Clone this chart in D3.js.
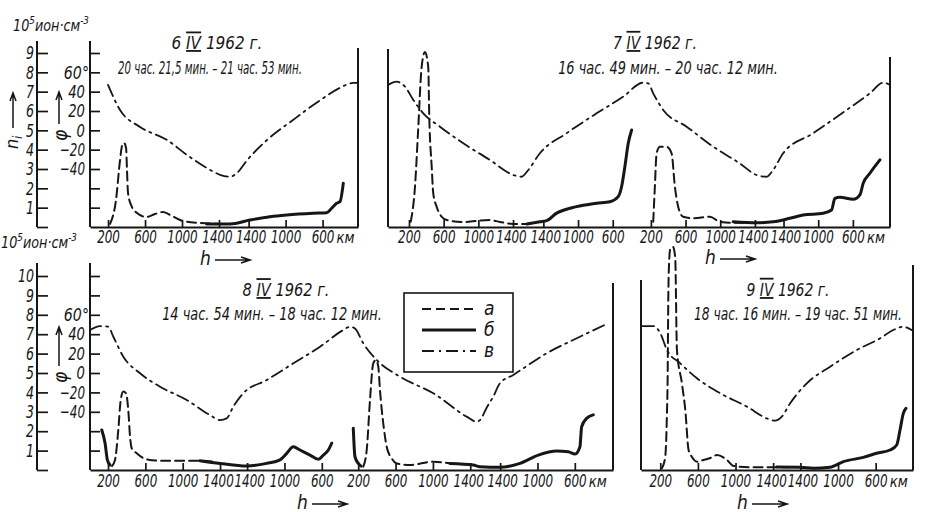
<!DOCTYPE html>
<html>
<head>
<meta charset="utf-8">
<script src="https://cdn.jsdelivr.net/npm/d3@7"></script>
<style>
  body { margin: 0; background: #fff; }
  text { font-family: "Liberation Sans Narrow", "DejaVu Sans Condensed", "Liberation Sans", sans-serif; font-style: italic; fill: #161616; }
</style>
</head>
<body>
<svg id="chart" width="925" height="512"></svg>
<script>
// ---- data (x = position along the pass in km of height profile, up then down) ----
var hLabels = ["200", "600", "1000", "1400", "1400", "1000", "600"];
var p1Ticks = [200, 600, 1000, 1400, 1720, 2120, 2520];
var p2Ticks = [200, 600, 1000, 1400, 1750, 2150, 2550, 2990, 3390, 3790, 4190, 4520, 4920, 5320];
var p3Ticks = [200, 600, 1000, 1400, 1690, 2090, 2490, 2880, 3280, 3680, 4080, 4400, 4800, 5200];
var p4Ticks = [200, 600, 1000, 1400, 1690, 2090, 2490];

var nTicksTop = [0, 1, 2, 3, 4, 5, 6, 7, 8, 9];
var nTicksBottom = [0, 1, 2, 3, 4, 5, 6, 7, 8, 9, 10];
var phiTicksTop = [-80, -60, -40, -20, 0, 20, 40, 60, 80];
var phiTicksBottom = [-80, -60, -40, -20, 0, 20, 40, 60, 80, 100];
var phiLabeled = [-40, -20, 0, 20, 40, 60];

// 6 IV 1962: n_i (10^5 ion/cm3) and phi (deg)
var p1A = [[222,0.16],[286,1.4],[330,3.47],[351,4.19],[373,4.35],[395,4.09],[405,2.95],[416,1.76],[449,1.14],[514,0.72],[611,0.52],[708,0.67],[795,0.78],[892,0.57],[1011,0.31],[1195,0.21],[1411,0.16]];
var p1B = [[1267,0.16],[1519,0.16],[1735,0.36],[1951,0.53],[2132,0.62],[2419,0.71],[2564,0.74],[2618,0.97],[2672,1.23],[2708,1.31],[2744,2.26]];
var p1V = [[200,47],[330,21],[546,3.5],[838,-10],[1054,-25.5],[1270,-39],[1411,-46],[1519,-48],[1595,-44],[1703,-31],[1919,-10],[2200,10.7],[2492,31],[2708,44],[2849,49],[2903,49]];

// 7 IV 1962
var p2A1 = [[220,0.27],[269,2.07],[304,4.86],[346,8.28],[384,9.05],[422,8.29],[434,5.71],[462,3.12],[480,1.74],[519,1.05],[577,0.53],[635,0.36],[823,0.26],[1134,0.36],[1249,0.26],[1399,0.16],[1561,0.16]];
var p2B1 = [[1561,0.16],[1710,0.27],[1788,0.33],[1903,0.72],[2018,0.92],[2171,1.09],[2364,1.23],[2518,1.31],[2613,1.57],[2652,2.08],[2690,3.12],[2729,4.33],[2768,5.02]];
var p2A2 = [[3017,0.27],[3036,2.08],[3056,3.81],[3094,4.15],[3171,4.15],[3229,3.81],[3267,2.08],[3305,1.05],[3363,0.53],[3478,0.45],[3671,0.53],[3786,0.27],[3936,0.22],[4094,0.22]];
var p2B2 = [[3939,0.27],[4209,0.22],[4400,0.27],[4593,0.45],[4746,0.62],[4977,0.71],[5074,0.88],[5112,1.48],[5170,1.54],[5324,1.43],[5401,1.66],[5439,2.26],[5516,2.78],[5632,3.47]];
var p2V = [[-39,47],[58,50.3],[154,45.2],[250,31.4],[365,17.6],[557,3.8],[826,-13.4],[1134,-30.7],[1403,-46.2],[1499,-48],[1576,-41],[1710,-23.7],[2018,-3],[2364,17.6],[2671,34.8],[2901,49.3],[2959,48.7],[3017,38.3],[3132,21.1],[3402,3.8],[3709,-16.9],[4014,-34.1],[4209,-46.2],[4324,-48],[4400,-41],[4516,-23.7],[4862,-3],[5247,21],[5516,38.3],[5669,49.3],[5746,47]];

// 8 IV 1962
var p3B0 = [[133,2.06],[168,1.39],[193,0.52],[221,0.26]];
var p3A1 = [[243,0.21],[275,0.52],[310,2.06],[336,3.61],[364,4.04],[393,3.95],[417,3.09],[436,1.72],[454,1.12],[507,0.86],[614,0.55],[757,0.48],[989,0.48],[1185,0.48],[1328,0.43]];
var p3B1 = [[1185,0.48],[1400,0.34],[1685,0.2],[1900,0.34],[2042,0.52],[2114,0.86],[2185,1.2],[2256,1.03],[2364,0.77],[2453,0.55],[2506,0.77],[2560,1.03],[2596,1.38]];
var p3B2s = [[2827,2.15],[2845,0.69],[2881,0.34],[2910,0.2]];
var p3A2 = [[2934,0.17],[2971,1.03],[3006,3.61],[3041,5.5],[3070,5.67],[3095,5.32],[3113,4.12],[3148,2.41],[3185,1.2],[3238,0.6],[3292,0.34],[3434,0.26],[3684,0.43],[3863,0.34]];
var p3B2 = [[3863,0.34],[4112,0.26],[4184,0.17],[4398,0.14],[4613,0.34],[4809,0.77],[5005,0.98],[5130,0.94],[5202,0.82],[5255,1.2],[5273,2.23],[5327,2.66],[5398,2.84]];
var p3V = [[7,44.3],[114,48.4],[203,47.7],[257,37.4],[364,16.8],[543,-0.3],[757,-14.1],[1043,-27.8],[1292,-43.3],[1400,-48.5],[1471,-46.8],[1542,-34.7],[1649,-20.9],[1900,-7.2],[2185,10],[2471,27.1],[2720,44.3],[2792,47.7],[2845,46],[2934,30.6],[3078,13.4],[3327,-3.8],[3684,-20.9],[4042,-45],[4149,-50.2],[4184,-48.5],[4260,-35],[4326,-24.4],[4398,-10.6],[4541,-2],[4898,20.3],[5255,37.4],[5541,50.5]];

// 9 IV 1962
var p4A = [[218,0.09],[253,0.69],[271,2.94],[278,4.64],[285,8.76],[296,10.93],[306,11.39],[335,11.5],[359,10.93],[377,6.19],[430,4.47],[466,3.09],[501,1.03],[537,0.67],[590,0.43],[660,0.52],[731,0.62],[802,0.77],[908,0.52],[978,0.21],[1156,0.14],[1368,0.14],[1581,0.14]];
var p4B = [[1439,0.15],[1687,0.14],[1828,0.09],[2005,0.14],[2147,0.43],[2359,0.65],[2501,0.86],[2643,1.03],[2714,1.29],[2749,2.06],[2784,2.92],[2813,3.18]];
var p4V = [[6,48.4],[129,48.4],[200,41],[271,23.7],[412,10],[590,-5.4],[837,-20.9],[1121,-34.7],[1333,-46.8],[1421,-49.2],[1492,-45],[1581,-31.2],[1758,-10.6],[2006,6.5],[2289,23.7],[2538,35.8],[2678,44.3],[2784,47.7],[2873,44.3]];

// ---- layout ----
var ink = "#161616";
var svg = d3.select("#chart");

var rows = {
  top:    { base: 227, top: 53,  nMax: 9,  axisTop: 41,  titleY: 49,  subY: 74,  tickPad: 3 },
  bottom: { base: 470, top: 276, nMax: 10, axisTop: 263, titleY: 296, subY: 320, tickPad: 4 }
};
Object.keys(rows).forEach(function (k) {
  var r = rows[k];
  r.yN = d3.scaleLinear().domain([0, r.nMax]).range([r.base, r.top]);
  r.yPhi = d3.scaleLinear().domain([-100, -100 + 20 * r.nMax]).range([r.base, r.top]);
});

var panels = [
  { row: "top", range: [90, 358], domain: [5, 2903], ticks: p1Ticks, labels: hLabels,
    dashed: [p1A], solid: [p1B], phi: p1V, leftTop: null, rightTop: 48,
    day: "6", titleX: 217, titleW: 91, sub: "20 час. 21,5 мин. – 21 час. 53 мин.", subX: 210, subW: 184, hX: 200, hY: 265 },
  { row: "top", range: [388, 890], domain: [-42, 5748], ticks: p2Ticks, labels: hLabels.concat(hLabels),
    dashed: [p2A1, p2A2], solid: [p2B1, p2B2], phi: p2V, leftTop: 49, rightTop: 57,
    day: "7", titleX: 655, titleW: 84, sub: "16 час. 49 мин. – 20 час. 12 мин.", subX: 668, subW: 220, hX: 705, hY: 264 },
  { row: "bottom", range: [90, 613], domain: [7, 5609], ticks: p3Ticks, labels: hLabels.concat(hLabels),
    dashed: [p3A1, p3A2], solid: [p3B0, p3B1, p3B2s, p3B2], phi: p3V, leftTop: null, rightTop: 283,
    day: "8", titleX: 286, titleW: 87, sub: "14 час. 54 мин. – 18 час. 12 мин.", subX: 272, subW: 220, hX: 297, hY: 509 },
  { row: "bottom", range: [641, 913], domain: [-5, 2887], ticks: p4Ticks, labels: hLabels,
    dashed: [p4A], solid: [p4B], phi: p4V, leftTop: 280, rightTop: 265,
    day: "9", titleX: 788, titleW: 83, sub: "18 час. 16 мин. – 19 час. 51 мин.", subX: 798, subW: 208, hX: 737, hY: 509 }
];

var styleA = { width: 2, dash: "9,5" };
var styleB = { width: 3, dash: null };
var styleV = { width: 1.8, dash: "12,5,2,5" };

function fmtPhi(d) {
  if (phiLabeled.indexOf(d) < 0) return "";
  if (d === 60) return "60\u00b0";
  return d < 0 ? "\u2212" + (-d) : String(d);
}

function vline(x, y1, y2, w) {
  svg.append("line").attr("x1", x).attr("x2", x).attr("y1", y1).attr("y2", y2)
    .attr("stroke", ink).attr("stroke-width", w || 2);
}

// squeeze text horizontally to the narrow lettering of the original
function squeeze(sel, widthOf) {
  sel.each(function () {
    var w = this.getComputedTextLength();
    if (!w) return;
    var s = d3.select(this);
    var target = typeof widthOf === "function" ? widthOf(s.text()) : widthOf;
    var x = +s.attr("x") || 0, y = +s.attr("y") || 0;
    s.attr("x", 0).attr("y", 0)
      .attr("transform", "translate(" + x + "," + y + ") scale(" + (target / w) + ",1)");
  });
}
function perChar(c) { return function (str) { return str.length * c; }; }

function styleAxis(g, size) {
  g.attr("font-size", size);
  g.selectAll(".tick line").attr("stroke", ink).attr("stroke-width", 1.7);
  g.selectAll(".domain").attr("stroke", ink).attr("stroke-width", 2);
}

// left axes (n_i and phi) for each row
[["top", nTicksTop, phiTicksTop], ["bottom", nTicksBottom, phiTicksBottom]].forEach(function (a) {
  var r = rows[a[0]];
  var gn = svg.append("g").attr("transform", "translate(37,0)")
    .call(d3.axisLeft(r.yN).tickValues(a[1]).tickSize(-11).tickSizeOuter(0).tickPadding(3)
      .tickFormat(function (d) { return d === 0 ? "" : d; }));
  gn.select(".domain").remove();
  styleAxis(gn, 18);
  squeeze(gn.selectAll(".tick text"), perChar(8));
  vline(37, r.base, r.axisTop);

  var gp = svg.append("g").attr("transform", "translate(90,0)")
    .call(d3.axisLeft(r.yPhi).tickValues(a[2]).tickSize(-10).tickSizeOuter(0).tickPadding(5).tickFormat(fmtPhi));
  gp.select(".domain").remove();
  styleAxis(gp, 18);
  // the degree mark hangs to the right of "60"
  gp.selectAll(".tick").filter(function (d) { return d === 60; }).select("text").attr("x", -1);
  squeeze(gp.selectAll(".tick text"), perChar(8.4));
  vline(90, r.base, r.axisTop);

  // phi label with arrow
  var phiY = a[0] === "top" ? 141 : 383;
  var arrTop = a[0] === "top" ? 92 : 327;
  svg.append("text").attr("transform", "translate(67," + phiY + ") rotate(-90)")
    .attr("font-size", 19).text("\u03c6");
  svg.append("path").attr("d", "M59," + (phiY - 17) + "V" + arrTop + "M56," + (arrTop + 8) + "L59," + arrTop + "L62," + (arrTop + 8))
    .attr("stroke", ink).attr("stroke-width", 1.5).attr("fill", "none");
});

// n_i label (top row)
var ni = svg.append("text").attr("transform", "translate(18,149) rotate(-90)").attr("font-size", 18);
ni.append("tspan").text("n");
ni.append("tspan").attr("font-size", 12).attr("dy", 4).text("i");
svg.append("path").attr("d", "M13,128V93M10,101L13,93L16,101")
  .attr("stroke", ink).attr("stroke-width", 1.5).attr("fill", "none");

// unit labels
[[13, 31], [1, 248]].forEach(function (p) {
  var t = svg.append("text").attr("x", p[0]).attr("y", p[1]).attr("font-size", 16);
  t.append("tspan").text("10");
  t.append("tspan").attr("font-size", 11).attr("dy", -7).text("5");
  t.append("tspan").attr("dy", 7).text("ион·см");
  t.append("tspan").attr("font-size", 11).attr("dy", -7).text("-3");
  squeeze(t, 76);
});

// panels
panels.forEach(function (p) {
  var r = rows[p.row];
  var x = d3.scaleLinear().domain(p.domain).range(p.range);

  var gx = svg.append("g").attr("transform", "translate(0," + r.base + ")")
    .call(d3.axisBottom(x).tickValues(p.ticks).tickSize(-7).tickSizeOuter(0).tickPadding(r.tickPad)
      .tickFormat(function (d, i) { return p.labels[i]; }));
  styleAxis(gx, 18);
  // the two apex labels sit shoulder to shoulder: ease them apart a little
  gx.selectAll(".tick text").attr("x", function (d, i) {
    if (p.labels[i] === "1400" && p.labels[i + 1] === "1400") return -2;
    if (p.labels[i] === "1400" && p.labels[i - 1] === "1400") return 2;
    return 0;
  });
  squeeze(gx.selectAll(".tick text"), perChar(7.6));
  var lastX = x(p.ticks[p.ticks.length - 1]);
  var km = svg.append("text").attr("x", lastX + 14).attr("y", r.base + r.tickPad + 13).attr("font-size", 16).text("км");
  squeeze(km, 18);

  if (p.leftTop !== null) vline(p.range[0], r.base, p.leftTop);
  vline(p.range[1], r.base, p.rightTop);

  var lineN = d3.line().x(function (d) { return x(d[0]); }).y(function (d) { return r.yN(d[1]); }).curve(d3.curveMonotoneX);
  var linePhi = d3.line().x(function (d) { return x(d[0]); }).y(function (d) { return r.yPhi(d[1]); }).curve(d3.curveMonotoneX);

  function draw(seg, gen, st) {
    svg.append("path").datum(seg).attr("d", gen).attr("fill", "none")
      .attr("stroke", ink).attr("stroke-width", st.width)
      .attr("stroke-dasharray", st.dash).attr("stroke-linejoin", "round").attr("stroke-linecap", "round");
  }
  draw(p.phi, linePhi, styleV);
  p.dashed.forEach(function (s) { draw(s, lineN, styleA); });
  p.solid.forEach(function (s) { draw(s, lineN, styleB); });

  // title & time interval
  var t = svg.append("text").attr("x", p.titleX).attr("y", r.titleY).attr("text-anchor", "middle").attr("font-size", 18);
  t.append("tspan").text(p.day + " ");
  t.append("tspan").style("text-decoration", "underline overline").text("IV");
  t.append("tspan").text(" 1962 г.");
  squeeze(t, p.titleW);
  var st = svg.append("text").attr("x", p.subX).attr("y", r.subY).attr("text-anchor", "middle")
    .attr("font-size", 17).text(p.sub);
  squeeze(st, p.subW);

  // h ->
  svg.append("text").attr("x", p.hX).attr("y", p.hY).attr("font-size", 19).text("h");
  var ay = p.hY - 5;
  svg.append("path").attr("d", "M" + (p.hX + 15) + "," + ay + "H" + (p.hX + 50) + "M" + (p.hX + 41) + "," + (ay - 3) + "L" + (p.hX + 50) + "," + ay + "L" + (p.hX + 41) + "," + (ay + 3))
    .attr("stroke", ink).attr("stroke-width", 1.6).attr("fill", "none");
});

// legend
var legend = [["а", styleA], ["б", styleB], ["в", styleV]];
svg.append("rect").attr("x", 404).attr("y", 293).attr("width", 109).attr("height", 79)
  .attr("fill", "#fff").attr("stroke", ink).attr("stroke-width", 1.6);
legend.forEach(function (l, i) {
  var y = 309 + i * 21;
  svg.append("line").attr("x1", 422).attr("x2", 476).attr("y1", y).attr("y2", y)
    .attr("stroke", ink).attr("stroke-width", l[1].width).attr("stroke-dasharray", l[1].dash);
  svg.append("text").attr("x", 484).attr("y", y + 6).attr("font-size", 19).text(l[0]);
});
</script>
</body>
</html>
